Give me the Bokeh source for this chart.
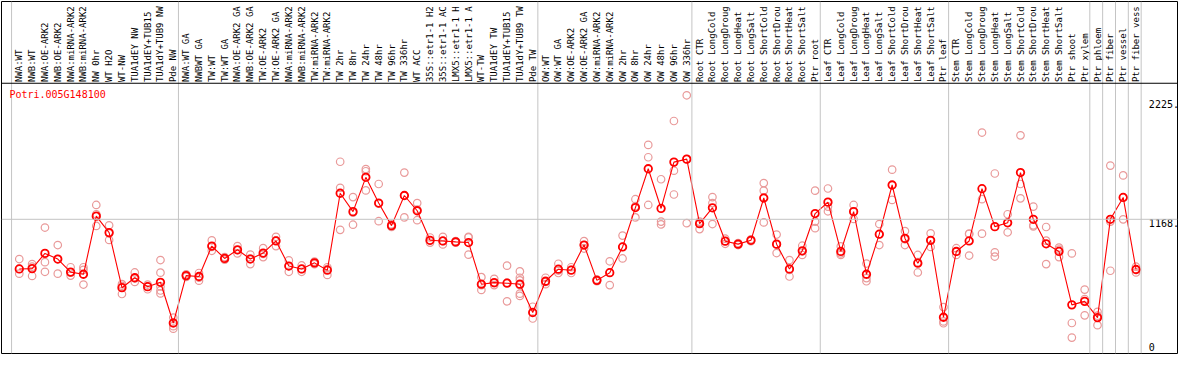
import math
from bokeh.plotting import figure
from bokeh.models import Range1d, Span, ColumnDataSource, Label
from bokeh.core.properties import value
from bokeh.embed import file_html
from bokeh.resources import INLINE

gene = "Potri.005G148100"

samples = [
    "NWA:WT", "NWB:WT", "NWA:OE-ARK2", "NWB:OE-ARK2", "NWA:miRNA-ARK2", "NWB:miRNA-ARK2",
    "NW 0hr", "WT H2O", "WT-NW", "TUA1dEY NW", "TUA1dEY+TUB15", "TUA1dY+TUB9 NW", "Pde NW",
    "NWA:WT GA", "NWBWT GA", "TW:WT", "TW:WT GA", "NWA:OE-ARK2 GA", "NWB:OE-ARK2 GA",
    "TW:OE-ARK2", "TW:OE-ARK2 GA", "NWA:miRNA-ARK2", "NWB:miRNA-ARK2", "TW:miRNA-ARK2",
    "TW:miRNA-ARK2", "TW 2hr", "TW 8hr", "TW 24hr", "TW 48hr", "TW 96hr", "TW 336hr",
    "WT ACC", "35S::etr1-1 H2", "35S::etr1-1 AC", "LMX5::etr1-1 H", "LMX5::etr1-1 A",
    "WT-TW", "TUA1dEY TW", "TUA1dEY+TUB15", "TUA1dY+TUB9 TW", "Pde TW",
    "OW:WT", "OW:WT GA", "OW:OE-ARK2", "OW:OE-ARK2 GA", "OW:miRNA-ARK2", "OW:miRNA-ARK2",
    "OW 2hr", "OW 8hr", "OW 24hr", "OW 48hr", "OW 96hr", "OW 336hr",
    "Root CTR", "Root LongCold", "Root LongDroug", "Root LongHeat", "Root LongSalt",
    "Root ShortCold", "Root ShortDrou", "Root ShortHeat", "Root ShortSalt", "Ptr root",
    "Leaf CTR", "Leaf LongCold", "Leaf LongDroug", "Leaf LongHeat", "Leaf LongSalt",
    "Leaf ShortCold", "Leaf ShortDrou", "Leaf ShortHeat", "Leaf ShortSalt", "Ptr leaf",
    "Stem CTR", "Stem LongCold", "Stem LongDroug", "Stem LongHeat", "Stem LongSalt",
    "Stem ShortCold", "Stem ShortDrou", "Stem ShortHeat", "Stem ShortSalt", "Ptr shoot",
    "Ptr xylem", "Ptr phloem", "Ptr fiber", "Ptr vessel", "Ptr fiber vess",
]

means = [
    728, 731, 866, 816, 700, 681, 1196, 1050, 562, 650, 571, 610, 249,
    669, 661, 931, 821, 898, 816, 869, 976, 754, 728, 782, 717, 1399, 1236, 1540, 1312,
    1112, 1379, 1244, 982, 976, 968, 962, 593, 607, 602, 593, 342,
    619, 726, 717, 940, 627, 695, 923, 1272, 1616, 1264, 1675, 1701,
    1129, 1270, 974, 948, 982, 1357, 948, 728, 889, 1219,
    1320, 883, 1236, 681, 1036, 1472, 999, 779, 982, 300,
    883, 976, 1439, 1103, 1137, 1582, 1168, 951, 883, 410,
    441, 297, 1168, 1362, 723,
]

replicates = [
    [816, 728, 686], [771, 748, 666], [1095, 788, 703], [940, 816, 686], [743, 697, 669],
    [743, 720, 590], [1295, 1213, 1109], [1115, 1044, 985], [593, 579, 506], [697, 644, 613],
    [590, 571, 548], [807, 695, 573, 537, 511], [297, 221, 199],
    [681, 669, 658], [692, 650, 624], [982, 923, 889], [833, 816, 810], [931, 895, 866],
    [855, 819, 771], [912, 861, 833], [1013, 982, 931], [804, 754, 703], [759, 726, 703],
    [793, 782, 771], [743, 726, 675], [1678, 1447, 1075], [1365, 1227, 1120],
    [1613, 1594, 1424], [1481, 1306, 1151], [1123, 1106, 1100], [1582, 1377, 1185],
    [1312, 1255, 1160], [1007, 979, 962], [1013, 974, 945], [974, 968, 962],
    [1013, 1007, 855], [655, 585, 542], [641, 602, 585], [757, 607, 441],
    [706, 650, 627, 585, 509, 489], [393, 342, 289],
    [650, 613, 593], [774, 714, 692], [743, 720, 692], [974, 940, 909], [635, 627, 619],
    [796, 697, 585], [1024, 923, 821], [1346, 1284, 1185], [1827, 1718, 1295],
    [1523, 1148, 1123], [2039, 1599, 1388], [2267, 1701, 1134],
    [1148, 1137, 1081], [1365, 1312, 1126], [996, 974, 951], [957, 945, 940],
    [991, 979, 974], [1489, 1422, 1140], [1033, 945, 869], [807, 720, 661],
    [934, 883, 852], [1422, 1148, 1089],
    [1441, 1281, 1239], [929, 866, 852], [1295, 1239, 1171], [776, 647, 619],
    [1126, 1036, 940], [1608, 1470, 1340], [1064, 991, 940], [852, 788, 697],
    [1044, 979, 923], [390, 263, 247],
    [912, 883, 852], [1041, 1038, 847], [1937, 1346, 1041], [1574, 875, 838],
    [1213, 1137, 1053], [1912, 1481, 1354], [1281, 1115, 1106], [1100, 979, 771],
    [917, 900, 833], [866, 249, 120],
    [545, 461, 317], [348, 314, 230], [1644, 1148, 712], [1557, 1362, 1168], [748, 720, 697],
]

group_starts = [0, 13, 41, 53, 63, 73, 84, 85, 86, 87, 88]
tick_values = [2225, 1168, 0]
tick_labels = ["2225.", "1168.", "0"]
gridline_value = 1168

# ---- layout helpers (reference pixel geometry -> data units) ----
PITCH = 13.0
X0 = 19.0
Y_ZERO = 366.5
K = 0.1183


def xr(px):
    return (px - X0) / PITCH


def yr(py):
    return (Y_ZERO - py) / K


W, H = 1178, 354
p = figure(width=W, height=H, output_backend="svg", toolbar_location=None,
           x_axis_type=None, y_axis_type=None,
           x_range=Range1d(xr(1), xr(1192)), y_range=Range1d(yr(369), yr(0)),
           min_border_left=1, min_border_right=1, min_border_top=1, min_border_bottom=1)
p.xgrid.visible = False
p.ygrid.visible = False
p.outline_line_color = "black"
p.outline_line_width = 1
p.background_fill_color = "white"
p.border_fill_color = "white"

font = value("DejaVu Sans Mono")

# separators
for g in group_starts:
    p.add_layout(Span(location=g - 0.6, dimension="height", line_color="#c4c4c4", line_width=1))
p.add_layout(Span(location=gridline_value, dimension="width", line_color="#c4c4c4", line_width=1))
p.add_layout(Span(location=yr(85.7), dimension="width", line_color="black", line_width=1))

xs = list(range(len(samples)))

# replicate points
rx, ry = [], []
for i, reps in enumerate(replicates):
    for v in reps:
        rx.append(i)
        ry.append(v)
p.scatter(rx, ry, marker="circle", size=7.5, fill_color=None, line_color="#e99a9a", line_width=1.2)

# mean line + markers
p.line(xs, means, line_color="red", line_width=1.1)
p.scatter(xs, means, marker="circle", size=7.5, fill_color=None, line_color="red", line_width=1.8)

# header labels
hdr = ColumnDataSource(dict(x=xs, y=[yr(84.5)] * len(xs), t=samples))
p.text(x="x", y="y", text="t", source=hdr, angle=math.pi / 2, text_align="left",
       text_baseline="middle", text_font=font, text_font_size="9px",
       text_color="black")

# value tick labels
p.text(x=[xr(1163)] * 2, y=tick_values[:2], text=tick_labels[:2], text_align="left",
       text_baseline="top", text_font=font, text_font_size="10px", text_color="black")
p.text(x=[xr(1163)], y=tick_values[2:], text=tick_labels[2:], text_align="left",
       text_baseline="bottom", text_font=font, text_font_size="10px", text_color="black")

# gene title
p.add_layout(Label(x=xr(9), y=yr(92), text=gene, text_align="left", text_baseline="top",
                   text_font="DejaVu Sans Mono", text_font_size="10px", text_color="red"))

open("out.html", "w").write(file_html(p, INLINE))
